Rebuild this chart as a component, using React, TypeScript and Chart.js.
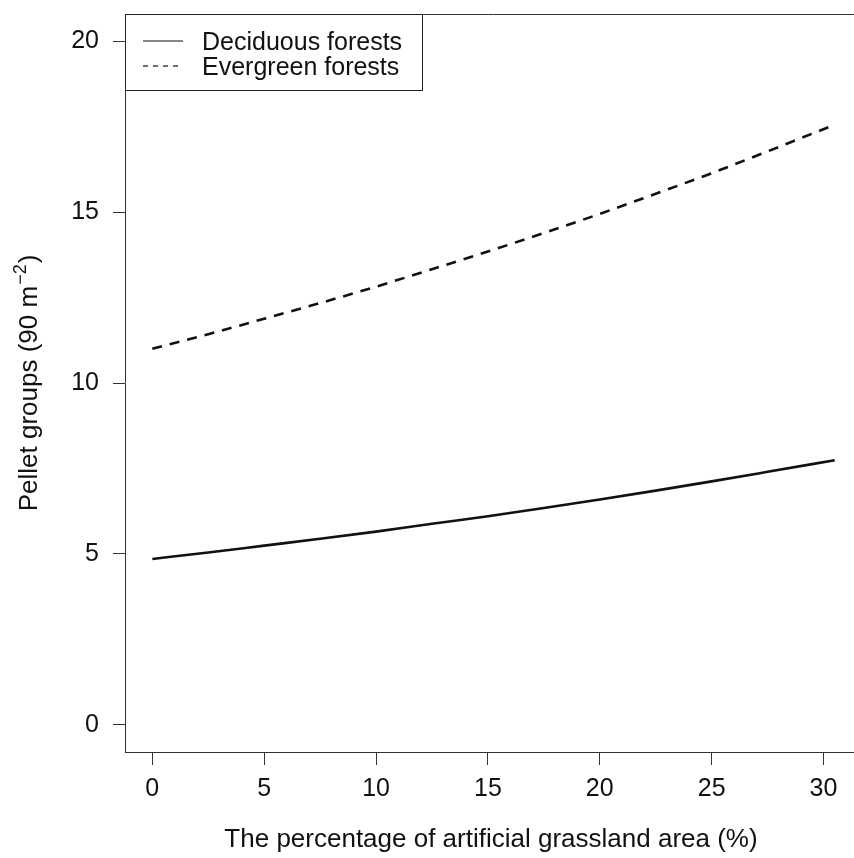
import React, { useEffect, useRef } from "react";
import { Chart, registerables } from "chart.js";

Chart.register(...registerables);

const X_VALUES = [0, 2.5, 5, 7.5, 10, 12.5, 15, 17.5, 20, 22.5, 25, 27.5, 30.5];
const DECIDUOUS = [4.85, 5.04, 5.24, 5.44, 5.65, 5.88, 6.1, 6.34, 6.59, 6.85, 7.12, 7.4, 7.74];
const EVERGREEN = [11.0, 11.43, 11.88, 12.34, 12.82, 13.33, 13.85, 14.39, 14.95, 15.54, 16.14, 16.78, 17.56];
const X_TICKS = [0, 5, 10, 15, 20, 25, 30];
const Y_TICKS = [0, 5, 10, 15, 20];
const SERIES_NAMES = ["Deciduous forests", "Evergreen forests"];
const X_TITLE = "The percentage of artificial grassland area (%)";
const Y_TITLE_MAIN = "Pellet groups (90 m";
const Y_TITLE_SUP = "\u22122";
const Y_TITLE_END = ")";

const FONT = "'Liberation Sans', Arial, Helvetica, sans-serif";
const INK = "#111";

const overlay = {
  id: "overlay",
  afterDraw(chart: any) {
    const ctx = chart.ctx;
    const a = chart.chartArea;
    ctx.save();
    ctx.strokeStyle = "#333";
    ctx.lineWidth = 1;
    ctx.beginPath();
    ctx.moveTo(a.left, a.top + 0.5);
    ctx.lineTo(a.right, a.top + 0.5);
    ctx.moveTo(a.right - 0.5, a.top);
    ctx.lineTo(a.right - 0.5, a.bottom);
    ctx.stroke();

    // legend
    const lx = a.left, ly = a.top, lw = 298, lh = 77;
    ctx.fillStyle = "#fff";
    ctx.fillRect(lx, ly, lw, lh);
    ctx.strokeStyle = "#222";
    ctx.strokeRect(lx + 0.5, ly + 0.5, lw - 1, lh - 1);
    const rows = [ly + 27, ly + 52];
    ctx.font = `25px ${FONT}`;
    ctx.textBaseline = "alphabetic";
    ctx.textAlign = "left";
    SERIES_NAMES.forEach((name, i) => {
      ctx.strokeStyle = INK;
      ctx.lineWidth = 1.2;
      ctx.setLineDash(i === 0 ? [] : [5, 5]);
      ctx.beginPath();
      ctx.moveTo(lx + 18, rows[i]);
      ctx.lineTo(lx + 58, rows[i]);
      ctx.stroke();
      ctx.setLineDash([]);
      ctx.fillStyle = INK;
      ctx.fillText(name, lx + 77, rows[i] + 9);
    });

    // x title
    ctx.font = `26px ${FONT}`;
    ctx.textAlign = "center";
    ctx.textBaseline = "alphabetic";
    ctx.fillText(X_TITLE, 491, 847);

    // y title with superscript
    ctx.translate(37, (a.top + a.bottom) / 2);
    ctx.rotate(-Math.PI / 2);
    ctx.font = `26px ${FONT}`;
    const w1 = ctx.measureText(Y_TITLE_MAIN).width;
    ctx.font = `18px ${FONT}`;
    const w2 = ctx.measureText(Y_TITLE_SUP).width;
    ctx.font = `26px ${FONT}`;
    const w3 = ctx.measureText(Y_TITLE_END).width;
    const total = w1 + w2 + w3 + 2;
    let x = -total / 2;
    ctx.textAlign = "left";
    ctx.fillText(Y_TITLE_MAIN, x, 0);
    x += w1 + 1;
    ctx.font = `18px ${FONT}`;
    ctx.fillText(Y_TITLE_SUP, x, -11);
    x += w2 + 1;
    ctx.font = `26px ${FONT}`;
    ctx.fillText(Y_TITLE_END, x, 0);
    ctx.restore();
  },
};

export default function App() {
  const ref = useRef<HTMLCanvasElement>(null);
  useEffect(() => {
    if (!ref.current) return;
    const chart = new Chart(ref.current, {
      type: "line",
      data: {
        datasets: [
          {
            label: SERIES_NAMES[0],
            data: X_VALUES.map((x, i) => ({ x, y: DECIDUOUS[i] })),
            borderColor: INK,
            borderWidth: 2.6,
            pointRadius: 0,
            cubicInterpolationMode: "monotone",
          },
          {
            label: SERIES_NAMES[1],
            data: X_VALUES.map((x, i) => ({ x, y: EVERGREEN[i] })),
            borderColor: INK,
            borderWidth: 2.6,
            borderDash: [10, 8],
            pointRadius: 0,
            cubicInterpolationMode: "monotone",
          },
        ],
      },
      options: {
        responsive: false,
        animation: false,
        layout: { padding: { left: 0, top: 14, right: 0, bottom: 0 } },
        plugins: { legend: { display: false }, tooltip: { enabled: false } },
        scales: {
          x: {
            type: "linear",
            min: -1.22,
            max: 31.72,
            afterFit: (s: any) => { s.height = 106; s.paddingLeft = 0; s.paddingRight = 0; },
            afterBuildTicks: (s: any) => { s.ticks = X_TICKS.map((v) => ({ value: v })); },
            grid: { display: true, drawOnChartArea: false, drawTicks: true, tickLength: 13, color: "#333", lineWidth: 1 },
            border: { display: true, color: "#333", width: 1 },
            ticks: { color: INK, font: { family: FONT, size: 25 }, padding: 9, maxRotation: 0, autoSkip: false },
          },
          y: {
            type: "linear",
            min: -0.8,
            max: 20.8,
            afterFit: (s: any) => { s.width = 125; s.paddingTop = 0; s.paddingBottom = 0; },
            afterBuildTicks: (s: any) => { s.ticks = Y_TICKS.map((v) => ({ value: v })); },
            grid: { display: true, drawOnChartArea: false, drawTicks: true, tickLength: 12, color: "#333", lineWidth: 1 },
            border: { display: true, color: "#333", width: 1 },
            ticks: { color: INK, font: { family: FONT, size: 25 }, padding: 14 },
          },
        },
      },
      plugins: [overlay],
    });
    return () => chart.destroy();
  }, []);
  return (
    <div style={{ position: "absolute", left: 0, top: 0, width: 854, height: 858, overflow: "hidden", background: "#fff" }}>
      <canvas ref={ref} width={862} height={858} style={{ display: "block" }} />
    </div>
  );
}
